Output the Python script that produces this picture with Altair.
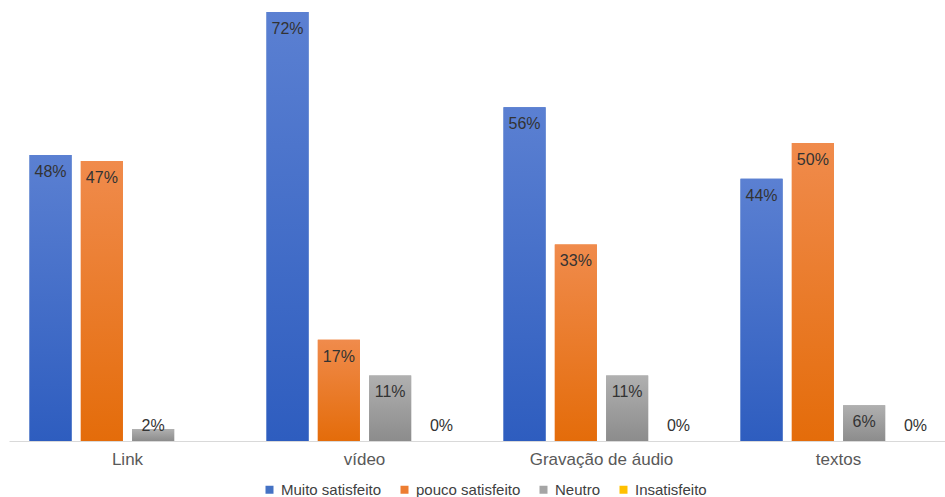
import altair as alt
import pandas as pd

categories = ["Link", "vídeo", "Gravação de áudio", "textos"]
series = ["Muito satisfeito", "pouco satisfeito", "Neutro", "Insatisfeito"]
muito = [0.48, 0.72, 0.56, 0.44]
pouco = [0.47, 0.17, 0.33, 0.50]
neutro = [0.02, 0.11, 0.11, 0.06]
insat = [None, 0.0, 0.0, 0.0]

solid = ["#4472C4", "#ED7D31", "#A5A5A5", "#FFC000"]
grad_top = ["#5B80D2", "#F08B4C", "#B0B0B0", "#FFC000"]
grad_bot = ["#2E5DBF", "#E46C0A", "#8C8C8C", "#FFC000"]

FONT = "Liberation Sans, Arial, sans-serif"

rows = []
for s, vals in zip(series, [muito, pouco, neutro, insat]):
    for c, v in zip(categories, vals):
        rows.append({"category": c, "series": s, "value": v})
df = pd.DataFrame(rows)

x_enc = alt.X(
    "category:N",
    sort=categories,
    scale=alt.Scale(domain=categories, range=[0, 948], paddingInner=0, paddingOuter=0),
    axis=alt.Axis(
        title=None, labelAngle=0, ticks=False, domainColor="#D9D9D9",
        domainWidth=1, labelFontSize=17, labelColor="#595959",
        labelPadding=10, labelFont=FONT, grid=False,
    ),
)
xo_enc = alt.XOffset(
    "series:N",
    sort=series,
    scale=alt.Scale(domain=series, paddingInner=0.18, paddingOuter=0.4),
)
y_scale = alt.Scale(domain=[0, 0.72], nice=False)

base = alt.Chart(df).transform_filter("isValid(datum.value)")

solid_bars = base.mark_bar().encode(
    x=x_enc,
    xOffset=xo_enc,
    y=alt.Y("value:Q", axis=None, scale=y_scale),
    color=alt.Color(
        "series:N",
        sort=series,
        scale=alt.Scale(domain=series, range=solid),
        legend=alt.Legend(
            orient="none", legendX=253, legendY=470, direction="horizontal",
            title=None, symbolType="square", symbolSize=64,
            symbolStrokeWidth=0, labelFontSize=15, labelFont=FONT,
            labelColor="#404040", columnPadding=15, labelOffset=4,
        ),
    ),
)

layers = [solid_bars]
for s, t, b in zip(series[:3], grad_top[:3], grad_bot[:3]):
    g = alt.Gradient(
        gradient="linear",
        stops=[alt.GradientStop(color=t, offset=0), alt.GradientStop(color=b, offset=1)],
        x1=0, x2=0, y1=0, y2=1,
    )
    layers.append(
        base.transform_filter(alt.datum.series == s)
        .mark_bar(fill=g)
        .encode(x=x_enc, xOffset=xo_enc, y=alt.Y("value:Q", axis=None, scale=y_scale))
    )

text_hi = (
    base.transform_filter(alt.datum.value >= 0.05)
    .mark_text(baseline="middle", dy=17, fontSize=16, font=FONT, color="#333333")
    .encode(
        x=x_enc, xOffset=xo_enc,
        y=alt.Y("value:Q", axis=None, scale=y_scale),
        text=alt.Text("value:Q", format=".0%"),
    )
)
text_lo = (
    base.transform_filter(alt.datum.value < 0.05)
    .transform_calculate(zero="0")
    .mark_text(baseline="middle", dy=-15, fontSize=16, font=FONT, color="#333333")
    .encode(
        x=x_enc, xOffset=xo_enc,
        y=alt.Y("zero:Q", axis=None, scale=y_scale),
        text=alt.Text("value:Q", format=".0%"),
    )
)
layers += [text_hi, text_lo]

chart = (
    alt.layer(*layers)
    .properties(
        width=936, height=429,
        padding={"left": 9, "top": 12, "right": 0, "bottom": 56},
        autosize=alt.AutoSizeParams(type="none"),
        background="white",
    )
    .configure_view(stroke=None)
)

chart.save("out.html", embed_options={"renderer": "svg", "actions": False})
